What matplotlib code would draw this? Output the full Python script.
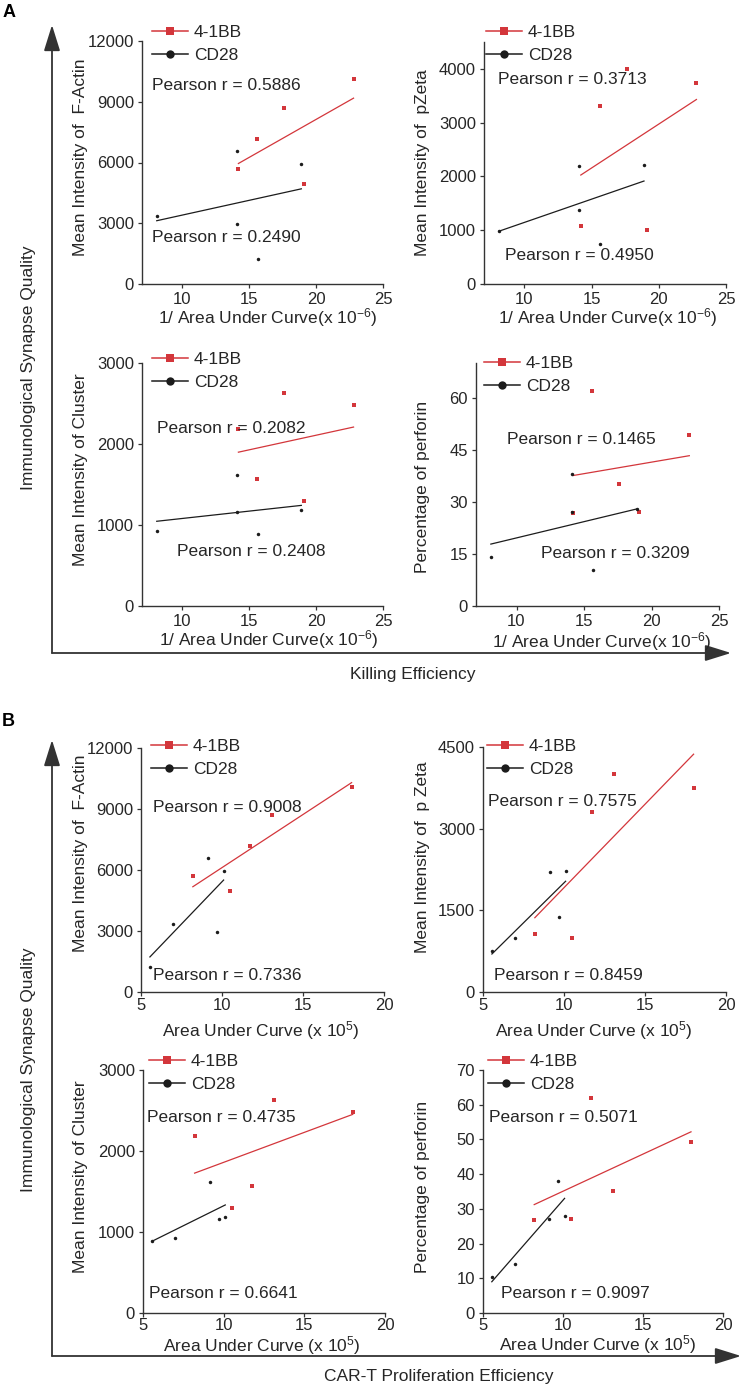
import matplotlib
matplotlib.use("Agg")
import matplotlib.pyplot as plt
from matplotlib.lines import Line2D
import numpy as np

plt.rcParams['font.family'] = ['Liberation Sans', 'DejaVu Sans']
plt.rcParams['mathtext.fontset'] = 'custom'
plt.rcParams['mathtext.rm'] = 'Liberation Sans'
plt.rcParams['mathtext.default'] = 'regular'

W, H = 743, 1388
RED = '#d3363b'
BLACK = '#1c1c1c'
INK = '#262626'
FS = 12.5

# killing efficiency axis: 1/AUC (x 10^-6); proliferation axis: AUC (x 10^5)
inv_auc_41bb = [14.2, 15.6, 17.6, 19.1, 22.8]
inv_auc_cd28 = [8.1, 14.1, 14.1, 15.65, 18.9]
auc_41bb = [8.2, 11.75, 13.1, 10.5, 18.0]
auc_cd28 = [7.0, 9.15, 9.7, 5.55, 10.1]

# synapse quality readouts, same sample order as above
factin_41bb = [5700, 7170, 8700, 4950, 10100]
factin_cd28 = [3340, 6590, 2940, 1250, 5930]
pzeta_41bb = [1070, 3310, 4005, 995, 3740]
pzeta_cd28 = [990, 2195, 1385, 744, 2214]
cluster_41bb = [2184, 1574, 2625, 1296, 2476]
cluster_cd28 = [927, 1612, 1166, 887, 1189]
perforin_41bb = [26.7, 62.0, 35.2, 27.0, 49.2]
perforin_cd28 = [14.1, 27.1, 38.1, 10.3, 28.0]

pearson_killing = [("0.5886", "0.2490"), ("0.3713", "0.4950"),
                   ("0.2082", "0.2408"), ("0.1465", "0.3209")]
pearson_prolif = [("0.9008", "0.7336"), ("0.7575", "0.8459"),
                  ("0.4735", "0.6641"), ("0.5071", "0.9097")]

xlabel_killing = '1/ Area Under Curve(x 10$^{-6}$)'
xlabel_prolif = 'Area Under Curve (x 10$^{5}$)'

fig = plt.figure(figsize=(W / 100, H / 100), dpi=100)


def fx(x):
    return x / W


def fy(y):
    return 1 - y / H


# overlay for the outer arrows and big labels
ov = fig.add_axes([0, 0, 1, 1])
ov.set_xlim(0, W)
ov.set_ylim(H, 0)
ov.axis('off')

arrow = dict(arrowstyle='-|>,head_length=0.8,head_width=0.25', color='#333333',
             lw=1.3, mutation_scale=20, shrinkA=0, shrinkB=0)
for top, corner, right in [(25, 653, 731), (740, 1356, 741)]:
    ov.annotate('', xy=(52, top), xytext=(52, corner), arrowprops=arrow)
    ov.annotate('', xy=(right, corner), xytext=(52, corner), arrowprops=arrow)

ov.text(9, 12, 'A', fontsize=13, fontweight='bold', ha='center', va='center', color='black')
ov.text(8, 721, 'B', fontsize=13, fontweight='bold', ha='center', va='center', color='black')
ov.text(29, 368, 'Immunological Synapse Quality', rotation=90, fontsize=FS,
        ha='center', va='center', color=INK)
ov.text(29, 1070, 'Immunological Synapse Quality', rotation=90, fontsize=FS,
        ha='center', va='center', color=INK)
ov.text(413, 674, 'Killing Efficiency', fontsize=FS, ha='center', va='center', color=INK)
ov.text(439, 1377, 'CAR-T Proliferation Efficiency', fontsize=FS, ha='center', va='center', color=INK)

panels = [
    # A row 1
    dict(box=(142, 41, 383, 284), x=(inv_auc_41bb, inv_auc_cd28), y=(factin_41bb, factin_cd28),
         xlim=(7, 25), xticks=[10, 15, 20, 25], ylim=(0, 12000), yticks=[0, 3000, 6000, 9000, 12000],
         ylabel='Mean Intensity of  F-Actin', ylab=(80, 157), xlabel=xlabel_killing, xlab=(268, 318),
         r=pearson_killing[0], rpos=((152, 86), (152, 238)), leg=(152, 32), xpad=2.5),
    dict(box=(484, 42, 726, 284), x=(inv_auc_41bb, inv_auc_cd28), y=(pzeta_41bb, pzeta_cd28),
         xlim=(7, 25), xticks=[10, 15, 20, 25], ylim=(0, 4500), yticks=[0, 1000, 2000, 3000, 4000],
         ylabel='Mean Intensity of  pZeta', ylab=(423, 163), xlabel=xlabel_killing, xlab=(608, 318),
         r=pearson_killing[1], rpos=((498, 80), (505, 256)), leg=(486, 32), xpad=2.5),
    # A row 2
    dict(box=(142, 363, 383, 606), x=(inv_auc_41bb, inv_auc_cd28), y=(cluster_41bb, cluster_cd28),
         xlim=(7, 25), xticks=[10, 15, 20, 25], ylim=(0, 3000), yticks=[0, 1000, 2000, 3000],
         ylabel='Mean Intensity of Cluster', ylab=(80, 470), xlabel=xlabel_killing, xlab=(269, 640),
         r=pearson_killing[2], rpos=((157, 428), (177, 551)), leg=(152, 359), xpad=2.5),
    dict(box=(476, 363, 719, 606), x=(inv_auc_41bb, inv_auc_cd28), y=(perforin_41bb, perforin_cd28),
         xlim=(7, 25), xticks=[10, 15, 20, 25], ylim=(0, 70), yticks=[0, 15, 30, 45, 60],
         ylabel='Percentage of perforin', ylab=(423, 487), xlabel=xlabel_killing, xlab=(602, 642),
         r=pearson_killing[3], rpos=((507, 439), (541, 554)), leg=(484, 363), xpad=2.5),
    # B row 1
    dict(box=(141, 748, 384, 992), x=(auc_41bb, auc_cd28), y=(factin_41bb, factin_cd28),
         xlim=(5, 20), xticks=[5, 10, 15, 20], ylim=(0, 12000), yticks=[0, 3000, 6000, 9000, 12000],
         ylabel='Mean Intensity of  F-Actin', ylab=(80, 853), xlabel=xlabel_prolif, xlab=(261, 1031),
         r=pearson_prolif[0], rpos=((153, 807), (153, 976)), leg=(151, 746), xpad=1.0),
    dict(box=(483, 747, 726, 992), x=(auc_41bb, auc_cd28), y=(pzeta_41bb, pzeta_cd28),
         xlim=(5, 20), xticks=[5, 10, 15, 20], ylim=(0, 4500), yticks=[0, 1500, 3000, 4500],
         ylabel='Mean Intensity of  p Zeta', ylab=(423, 857), xlabel=xlabel_prolif, xlab=(594, 1031),
         r=pearson_prolif[1], rpos=((488, 802), (494, 975)), leg=(487, 746), xpad=1.0),
    # B row 2
    dict(box=(143, 1070, 385, 1313), x=(auc_41bb, auc_cd28), y=(cluster_41bb, cluster_cd28),
         xlim=(5, 20), xticks=[5, 10, 15, 20], ylim=(0, 3000), yticks=[0, 1000, 2000, 3000],
         ylabel='Mean Intensity of Cluster', ylab=(80, 1177), xlabel=xlabel_prolif, xlab=(262, 1346),
         r=pearson_prolif[2], rpos=((147, 1117), (149, 1294)), leg=(149, 1061), xpad=0.5),
    dict(box=(483, 1070, 723, 1313), x=(auc_41bb, auc_cd28), y=(perforin_41bb, perforin_cd28),
         xlim=(5, 20), xticks=[5, 10, 15, 20], ylim=(0, 70), yticks=[0, 10, 20, 30, 40, 50, 60, 70],
         ylabel='Percentage of perforin', ylab=(422, 1187), xlabel=xlabel_prolif, xlab=(598, 1345),
         r=pearson_prolif[3], rpos=((489, 1117), (501, 1294)), leg=(488, 1061), xpad=0.5),
]

for p in panels:
    l, t, r, b = p['box']
    ax = fig.add_axes([fx(l), fy(b), (r - l) / W, (b - t) / H])
    ax.patch.set_alpha(0)
    for side in ['top', 'right']:
        ax.spines[side].set_visible(False)
    for side in ['left', 'bottom']:
        ax.spines[side].set_color('#333333')
        ax.spines[side].set_linewidth(1.0)
    ax.tick_params(direction='out', length=3.2, width=0.9, colors='#333333',
                   labelsize=12, labelcolor=INK, pad=2.5)
    ax.tick_params(axis='x', pad=p['xpad'])

    for xs, ys, col, mk in [(p['x'][0], p['y'][0], RED, 's'), (p['x'][1], p['y'][1], BLACK, 'o')]:
        xs = np.array(xs)
        ys = np.array(ys)
        ax.plot(xs, ys, linestyle='none', marker=mk, ms=2.5, color=col, mew=0, clip_on=False)
        k, c = np.polyfit(xs, ys, 1)
        xx = np.array([xs.min(), xs.max()])
        ax.plot(xx, k * xx + c, color=col, lw=0.9)

    ax.set_xlim(*p['xlim'])
    ax.set_ylim(*p['ylim'])
    ax.set_xticks(p['xticks'])
    ax.set_yticks(p['yticks'])

    fig.text(fx(p['ylab'][0]), fy(p['ylab'][1]), p['ylabel'], rotation=90, fontsize=FS,
             ha='center', va='center', color=INK)
    fig.text(fx(p['xlab'][0]), fy(p['xlab'][1]), p['xlabel'], fontsize=FS,
             ha='center', va='center', color=INK)
    for txt, (tx, ty) in zip(p['r'], p['rpos']):
        fig.text(fx(tx), fy(ty), 'Pearson r = ' + txt, fontsize=FS,
                 ha='left', va='center', color=INK)

    handles = [Line2D([0], [0], color=RED, lw=1.1, marker='s', ms=5.5, mew=0),
               Line2D([0], [0], color=BLACK, lw=1.1, marker='o', ms=6, mew=0)]
    lx, ly = p['leg']
    ax.legend(handles, ['4-1BB', 'CD28'], loc='upper left',
              bbox_to_anchor=(fx(lx), fy(ly - 7)), bbox_transform=fig.transFigure,
              frameon=False, borderpad=0, borderaxespad=0, handlelength=2.07,
              handletextpad=0.35, labelspacing=0.43, fontsize=FS, labelcolor=INK)

fig.savefig('out.png', dpi=100)
